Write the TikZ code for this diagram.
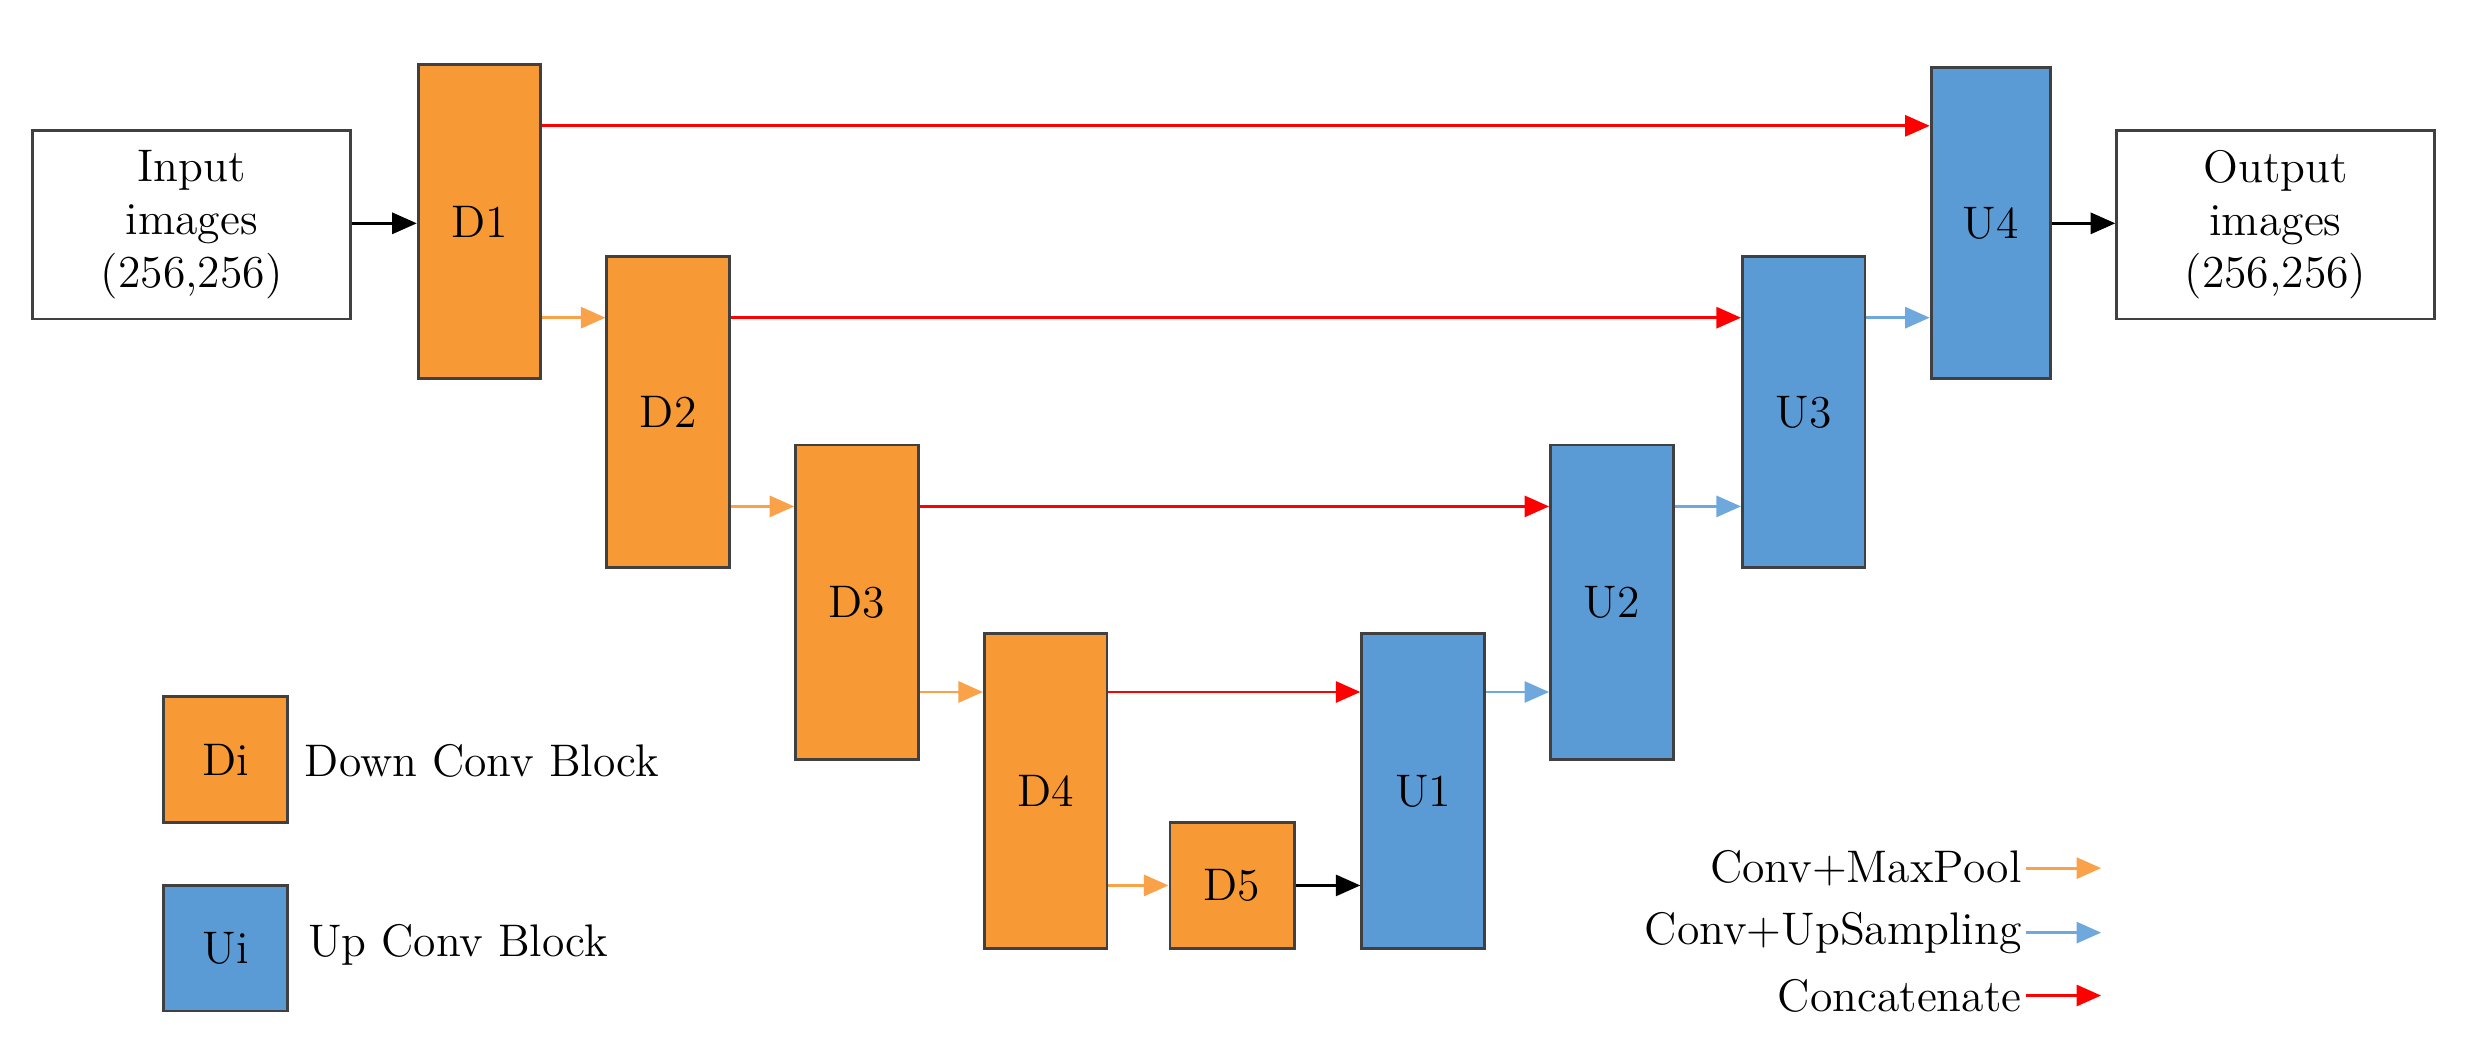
\documentclass[tikz,border=0pt]{standalone}
\usetikzlibrary{arrows.meta}
\definecolor{org}{HTML}{F79A35}
\definecolor{blu}{HTML}{5B9BD5}
\definecolor{lor}{HTML}{F9A24A}
\definecolor{lbl}{HTML}{6FA8DC}
\begin{document}
\begin{tikzpicture}[x=0.01573cm,y=-0.01573cm,
 blk/.style={draw=black!75,line width=0.8pt,anchor=north west,inner sep=0pt,font=\fontsize{13}{15}\selectfont},
 dn/.style={blk,fill=org},
 up/.style={blk,fill=blu},
 io/.style={blk,fill=white,align=center,minimum width=202*0.01573cm,minimum height=120*0.01573cm},
 ar/.style={-{Triangle[length=7pt,width=6pt]},line width=0.8pt},
 oa/.style={ar,lor}, ba/.style={ar,lbl}, ra/.style={ar,red}, ka/.style={ar,black},
 lt/.style={font=\fontsize{13}{15}\selectfont}]
\useasboundingbox (0,0) rectangle (1568,673);
\node[io] (in) at (20,82) {Input\\images\\(256,256)};
\node[io] (out) at (1345,82) {Output\\images\\(256,256)};
\newcommand{\bx}[6]{\node[#1,minimum width=#4*0.01573cm,minimum height=#5*0.01573cm] (#2) at (#3) {#6};}
\bx{dn}{D1}{265,40}{78}{200}{D1}
\bx{dn}{D2}{385,162}{78}{198}{D2}
\bx{dn}{D3}{505,282}{78}{200}{D3}
\bx{dn}{D4}{625,402}{78}{200}{D4}
\bx{dn}{D5}{743,522}{79}{80}{D5}
\bx{up}{U1}{865,402}{78}{200}{U1}
\bx{up}{U2}{985,282}{78}{200}{U2}
\bx{up}{U3}{1107,162}{78}{198}{U3}
\bx{up}{U4}{1227,42}{76}{198}{U4}
\bx{dn}{Ld}{103,442}{79}{80}{Di}
\bx{up}{Lu}{103,562}{79}{80}{Ui}
\node[lt,anchor=west] (tld) at (186,484) {Down Conv Block};
\node[lt,anchor=west] (tlu) at (188,601) {Up Conv Block};
\draw[ka] (in.east |- 0,142) -- (D1.west |- 0,142);
\draw[oa] (D1.east |- 0,202) -- (D2.west |- 0,202);
\draw[oa] (D2.east |- 0,322) -- (D3.west |- 0,322);
\draw[oa] (D3.east |- 0,440) -- (D4.west |- 0,440);
\draw[oa] (D4.east |- 0,563) -- (D5.west |- 0,563);
\draw[ka] (D5.east |- 0,563) -- (U1.west |- 0,563);
\draw[ba] (U1.east |- 0,440) -- (U2.west |- 0,440);
\draw[ba] (U2.east |- 0,322) -- (U3.west |- 0,322);
\draw[ba] (U3.east |- 0,202) -- (U4.west |- 0,202);
\draw[ka] (U4.east |- 0,142) -- (out.west |- 0,142);
\draw[ra] (D1.east |- 0,80) -- (U4.west |- 0,80);
\draw[ra] (D2.east |- 0,202) -- (U3.west |- 0,202);
\draw[ra] (D3.east |- 0,322) -- (U2.west |- 0,322);
\draw[ra] (D4.east |- 0,440) -- (U1.west |- 0,440);
\node[lt,anchor=east,inner sep=1pt] (l1) at (1288,552) {Conv+MaxPool};
\node[lt,anchor=east,inner sep=1pt] (l2) at (1288,593) {Conv+UpSampling};
\node[lt,anchor=east,inner sep=1pt] (l3) at (1288,633) {Concatenate};
\coordinate (e1) at (1336,552);
\coordinate (e2) at (1336,593);
\coordinate (e3) at (1336,633);
\draw[oa] (l1.east) -- (e1);
\draw[ba] (l2.east) -- (e2);
\draw[ra] (l3.east) -- (e3);
\end{tikzpicture}
\end{document}
